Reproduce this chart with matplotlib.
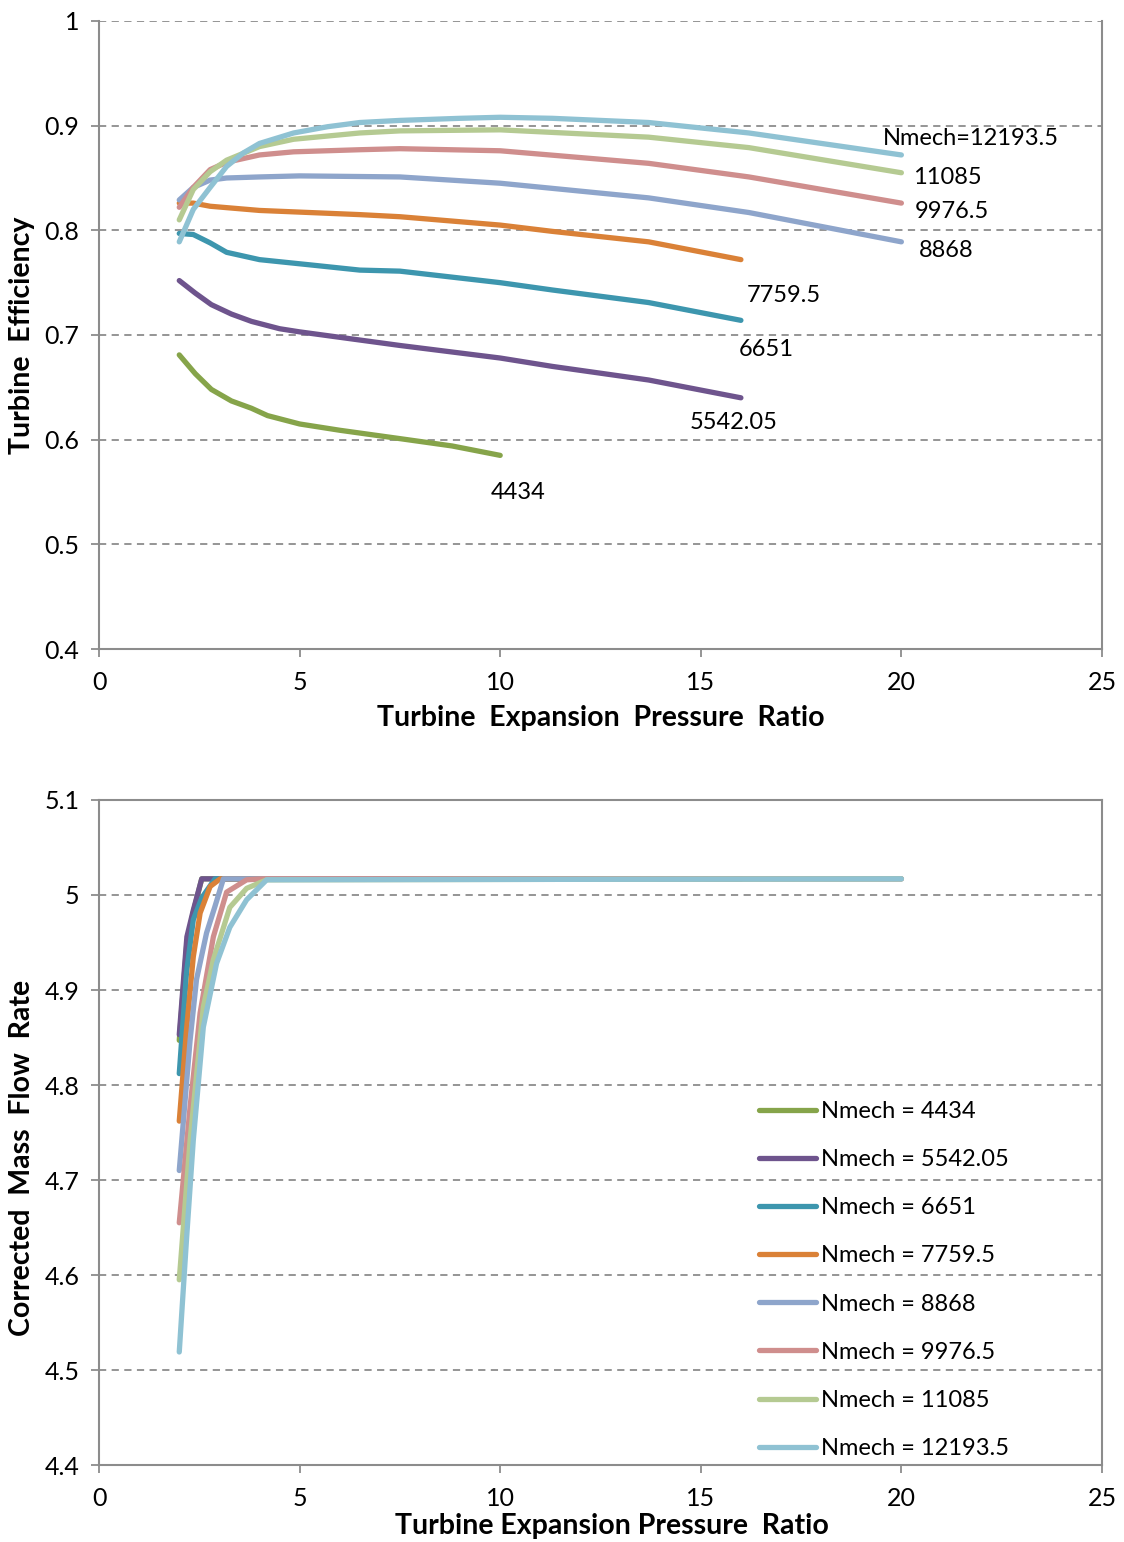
import matplotlib

matplotlib.use("Agg")
import matplotlib.pyplot as plt

plt.rcParams["font.family"] = ["Lato", "DejaVu Sans"]

SPEEDS = ["4434", "5542.05", "6651", "7759.5", "8868", "9976.5", "11085", "12193.5"]
COLORS = ["#86A44A", "#6E548D", "#3D96AE", "#DA8137", "#8EA5CB", "#CF8E8D", "#B5CA92", "#8FC2D3"]

# efficiency map, pressure ratio vs. turbine efficiency
eff_pr = [
    [2.0, 2.4, 2.8, 3.3, 3.8, 4.2, 5.0, 6.0, 7.5, 8.8, 10.0],
    [2.0, 2.4, 2.8, 3.3, 3.8, 4.5, 5.0, 7.5, 10.0, 11.3, 13.7, 16.0],
    [2.0, 2.35, 2.77, 3.18, 4.0, 5.26, 6.5, 7.5, 10.0, 11.3, 13.7, 16.0],
    [2.0, 2.35, 2.77, 4.0, 6.5, 7.5, 10.0, 11.3, 13.7, 16.0],
    [2.0, 2.35, 2.77, 3.18, 4.0, 5.0, 7.5, 10.0, 13.7, 16.2, 20.0],
    [2.0, 2.35, 2.77, 3.18, 4.0, 4.85, 6.5, 7.5, 10.0, 13.7, 16.2, 20.0],
    [2.0, 2.35, 2.77, 3.18, 4.0, 4.85, 6.5, 7.5, 10.0, 13.7, 16.2, 20.0],
    [2.0, 2.35, 2.77, 3.18, 3.6, 4.0, 4.85, 5.7, 6.5, 7.5, 9.0, 10.0, 11.3, 13.7, 16.2, 20.0],
]
eff_val = [
    [0.681, 0.663, 0.648, 0.637, 0.630, 0.623, 0.615, 0.609, 0.601, 0.594, 0.585],
    [0.752, 0.740, 0.729, 0.720, 0.713, 0.706, 0.703, 0.690, 0.678, 0.670, 0.657, 0.640],
    [0.797, 0.796, 0.788, 0.779, 0.772, 0.767, 0.762, 0.761, 0.750, 0.743, 0.731, 0.714],
    [0.826, 0.826, 0.823, 0.819, 0.815, 0.813, 0.805, 0.799, 0.789, 0.772],
    [0.829, 0.841, 0.848, 0.850, 0.851, 0.852, 0.851, 0.845, 0.831, 0.817, 0.789],
    [0.822, 0.841, 0.858, 0.865, 0.872, 0.875, 0.877, 0.878, 0.876, 0.864, 0.851, 0.826],
    [0.810, 0.839, 0.856, 0.867, 0.880, 0.887, 0.893, 0.895, 0.896, 0.889, 0.879, 0.855],
    [0.789, 0.820, 0.841, 0.861, 0.874, 0.883, 0.893, 0.899, 0.903, 0.905, 0.907, 0.908,
     0.907, 0.903, 0.893, 0.872],
]
# end labels on the efficiency plot (text, x, y)
eff_labels = [
    ("4434", 9.77, 0.550),
    ("5542.05", 14.73, 0.616),
    ("6651", 15.95, 0.686),
    ("7759.5", 16.15, 0.738),
    ("8868", 20.44, 0.781),
    ("9976.5", 20.34, 0.818),
    ("11085", 20.29, 0.850),
    ("Nmech=12193.5", 19.54, 0.888),
]

# mass flow map
flow_pr = [
    [2.0, 2.19, 2.35, 2.56, 10.0],
    [2.0, 2.19, 2.35, 2.56, 16.0],
    [2.0, 2.18, 2.35, 2.56, 2.89, 16.0],
    [2.0, 2.18, 2.35, 2.52, 2.77, 3.02, 16.0],
    [2.0, 2.27, 2.43, 2.68, 2.89, 3.1, 20.0],
    [2.0, 2.27, 2.52, 2.85, 3.18, 3.68, 4.09, 20.0],
    [2.0, 2.27, 2.6, 2.85, 3.26, 3.68, 4.18, 20.0],
    [2.0, 2.18, 2.35, 2.6, 2.93, 3.26, 3.68, 4.18, 20.0],
]
flow_val = [
    [4.847, 4.950, 4.982, 5.017, 5.017],
    [4.853, 4.956, 4.984, 5.017, 5.017],
    [4.812, 4.918, 4.974, 4.997, 5.017, 5.017],
    [4.762, 4.858, 4.935, 4.981, 5.009, 5.017, 5.017],
    [4.710, 4.847, 4.911, 4.960, 4.988, 5.017, 5.017],
    [4.655, 4.777, 4.876, 4.956, 5.003, 5.016, 5.017, 5.017],
    [4.595, 4.742, 4.882, 4.932, 4.987, 5.007, 5.016, 5.017],
    [4.519, 4.637, 4.742, 4.861, 4.928, 4.966, 4.995, 5.016, 5.017],
]

GRAY = "#8c8c8c"
FS_TICK = 18
FS_TEXT = 17
FS_LABEL = 20.5


def style_axes(ax, ylim, yticks, yfmt):
    ax.set_xlim(0, 25)
    ax.set_xticks(range(0, 26, 5))
    ax.set_ylim(*ylim)
    ax.set_yticks(yticks)
    ax.set_yticklabels([yfmt(v) for v in yticks])
    for v in yticks[1:]:
        ax.axhline(v, color=GRAY, lw=1.3, ls=(0, (4, 3)), zorder=0)
    ax.spines["top"].set_visible(False)
    for s in ("left", "bottom", "right"):
        ax.spines[s].set_color(GRAY)
        ax.spines[s].set_linewidth(1.5)
    ax.tick_params(colors=GRAY, labelcolor="black", labelsize=FS_TICK, length=6, width=1.3,
                   direction="out")
    ax.tick_params(axis="x", pad=10)
    ax.tick_params(axis="y", pad=8)


fig = plt.figure(figsize=(11.24, 15.42), dpi=100)
ax1 = fig.add_axes([0.0881, 0.5791, 0.8923, 0.4073])
ax2 = fig.add_axes([0.0881, 0.0499, 0.8923, 0.4313])

style_axes(ax1, (0.4, 1.0), [0.4, 0.5, 0.6, 0.7, 0.8, 0.9, 1.0],
           lambda v: "1" if v == 1.0 else f"{v:.1f}")
for pr, val, c in zip(eff_pr, eff_val, COLORS):
    ax1.plot(pr, val, color=c, lw=3.8, solid_capstyle="round", solid_joinstyle="round")
for txt, x, y in eff_labels:
    ax1.text(x, y, txt, fontsize=FS_TEXT, ha="left", va="center")
ax1.set_xlabel("Turbine  Expansion  Pressure  Ratio", fontsize=FS_LABEL, fontweight="bold")
ax1.set_ylabel("Turbine  Efficiency", fontsize=FS_LABEL, fontweight="bold")
ax1.xaxis.set_label_coords(0.5, -0.089)
ax1.yaxis.set_label_coords(-0.064, 0.5)

style_axes(ax2, (4.4, 5.1), [4.4, 4.5, 4.6, 4.7, 4.8, 4.9, 5.0, 5.1],
           lambda v: "5" if abs(v - 5.0) < 1e-9 else f"{v:.1f}")
ax2.spines["top"].set_visible(True)
ax2.spines["top"].set_color(GRAY)
ax2.spines["top"].set_linewidth(1.5)
for pr, val, c, sp in zip(flow_pr, flow_val, COLORS, SPEEDS):
    ax2.plot(pr, val, color=c, lw=3.8, solid_capstyle="round", solid_joinstyle="round",
             label=f"Nmech = {sp}")
ax2.set_xlabel("Turbine Expansion Pressure  Ratio", fontsize=FS_LABEL, fontweight="bold")
ax2.set_ylabel("Corrected  Mass  Flow  Rate", fontsize=FS_LABEL, fontweight="bold")
ax2.xaxis.set_label_coords(0.5115, -0.072)
ax2.yaxis.set_label_coords(-0.064, 0.462)
ax2.legend(loc="center left", bbox_to_anchor=(0.667, 0.1699), bbox_transform=fig.transFigure,
           frameon=False, fontsize=FS_TEXT, handlelength=2.4, handletextpad=0.2,
           labelspacing=1.15, borderaxespad=0)

fig.savefig("out.png", dpi=100)
